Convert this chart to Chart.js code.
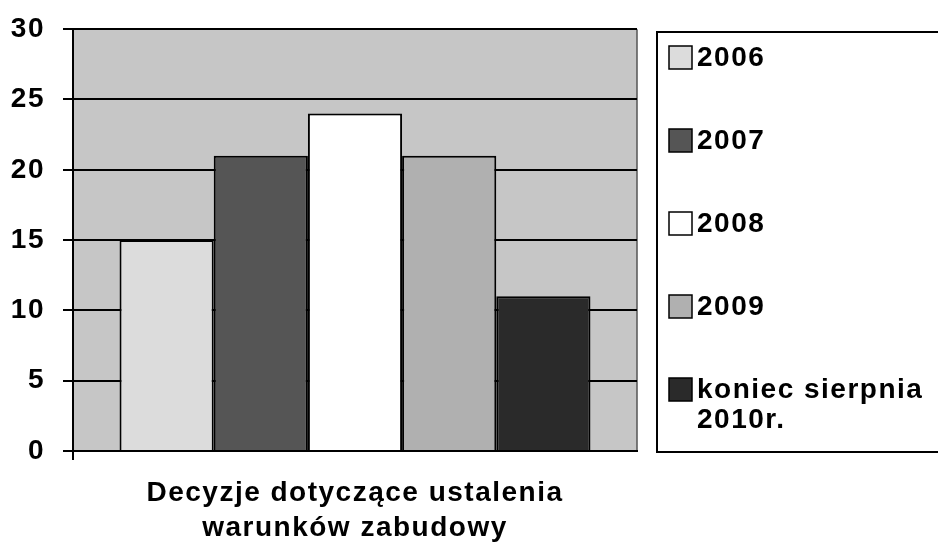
<!DOCTYPE html>
<html>
<head>
<meta charset="utf-8">
<script src="https://cdn.jsdelivr.net/npm/chart.js@4.4.1/dist/chart.umd.min.js"></script>
<style>
    html, body { margin: 0; padding: 0; background: #fff; }
    #wrap { width: 938px; height: 553px; }
</style>
</head>
<body>
<div id="wrap"><canvas id="myChart"></canvas></div>
<script>
const categories = ['Decyzje dotyczące ustalenia warunków zabudowy'];
const seriesNames = ['2006', '2007', '2008', '2009', 'koniec sierpnia\n2010r.'];
const seriesValues = [[15], [21], [24], [21], [11]];
const seriesColors = ['#dcdcdc', '#555555', '#ffffff', '#b0b0b0', '#2a2a2a'];
const yTicks = [0, 5, 10, 15, 20, 25, 30];
const xTitle = ['Decyzje dotyczące ustalenia', 'warunków zabudowy'];

const FONT = "'Liberation Sans', Arial, sans-serif";
const SPACING = '1.5px';

// the scanned lettering is a bit wider, so spread the glyphs
const wideText = {
    id: 'wideText',
    beforeLayout(chart) { chart.ctx.letterSpacing = SPACING; },
    beforeDraw(chart) { chart.ctx.letterSpacing = SPACING; }
};

// gray plot area + right edge line
const plotBg = {
    id: 'plotBg',
    beforeDraw(chart) {
        const { ctx, chartArea: a } = chart;
        ctx.save();
        ctx.fillStyle = '#c6c6c6';
        ctx.fillRect(a.left, a.top, a.right - a.left, a.bottom - a.top);
        ctx.strokeStyle = '#555';
        ctx.lineWidth = 1.5;
        ctx.beginPath();
        ctx.moveTo(a.right, a.top);
        ctx.lineTo(a.right, a.bottom);
        ctx.stroke();
        // little tick below the origin
        ctx.strokeStyle = '#000';
        ctx.lineWidth = 2;
        ctx.beginPath();
        ctx.moveTo(a.left, a.bottom);
        ctx.lineTo(a.left, a.bottom + 9);
        ctx.stroke();
        ctx.restore();
    }
};

// boxed legend on the right, drawn by hand
const boxLegend = {
    id: 'boxLegend',
    afterDraw(chart) {
        const { ctx } = chart;
        const box = { x: 657, y: 32, w: 290, h: 420 };
        ctx.save();
        ctx.fillStyle = '#fff';
        ctx.fillRect(box.x, box.y, box.w, box.h);
        ctx.strokeStyle = '#000';
        ctx.lineWidth = 2;
        ctx.strokeRect(box.x, box.y, box.w, box.h);
        ctx.font = 'bold 28px ' + FONT;
        ctx.textBaseline = 'middle';
        chart.data.datasets.forEach((ds, i) => {
            const y = 58 + i * 83;
            ctx.fillStyle = ds.backgroundColor;
            ctx.fillRect(669, y - 12, 23, 23);
            ctx.lineWidth = 1.5;
            ctx.strokeStyle = '#000';
            ctx.strokeRect(669, y - 12, 23, 23);
            ctx.fillStyle = '#000';
            ds.label.split('\n').forEach((line, k) => {
                ctx.fillText(line, 697, y + k * 30);
            });
        });
        ctx.restore();
    }
};

const ctx = document.getElementById('myChart').getContext('2d');
const myChart = new Chart(ctx, {
    type: 'bar',
    data: {
        labels: categories,
        datasets: seriesNames.map((name, i) => ({
            label: name,
            data: seriesValues[i],
            backgroundColor: seriesColors[i],
            borderColor: '#000',
            borderWidth: 2,
            barPercentage: 1,
            categoryPercentage: 0.835
        }))
    },
    options: {
        responsive: true,
        maintainAspectRatio: false,
        animation: false,
        layout: { padding: { top: 28, right: 301, left: 0, bottom: 0 } },
        plugins: {
            legend: { display: false },
            tooltip: { enabled: false }
        },
        scales: {
            x: {
                ticks: { display: false },
                grid: { display: false },
                border: { color: '#000', width: 2 },
                title: {
                    display: true,
                    text: xTitle,
                    color: '#000',
                    font: { family: FONT, size: 28, weight: 'bold', lineHeight: 1.25 },
                    padding: { top: 0, bottom: 7 }
                },
                afterFit(scale) { scale.height = 102; }
            },
            y: {
                min: 0,
                max: 30,
                afterBuildTicks(scale) { scale.ticks = yTicks.map(v => ({ value: v })); },
                ticks: {
                    color: '#000',
                    padding: 18,
                    font: { family: FONT, size: 28, weight: 'bold', lineHeight: 0.8 }
                },
                grid: { color: '#000', lineWidth: 2, tickLength: 10 },
                border: { color: '#000', width: 2 },
                afterFit(scale) { scale.width = 73; }
            }
        }
    },
    plugins: [wideText, plotBg, boxLegend]
});
</script>
</body>
</html>
